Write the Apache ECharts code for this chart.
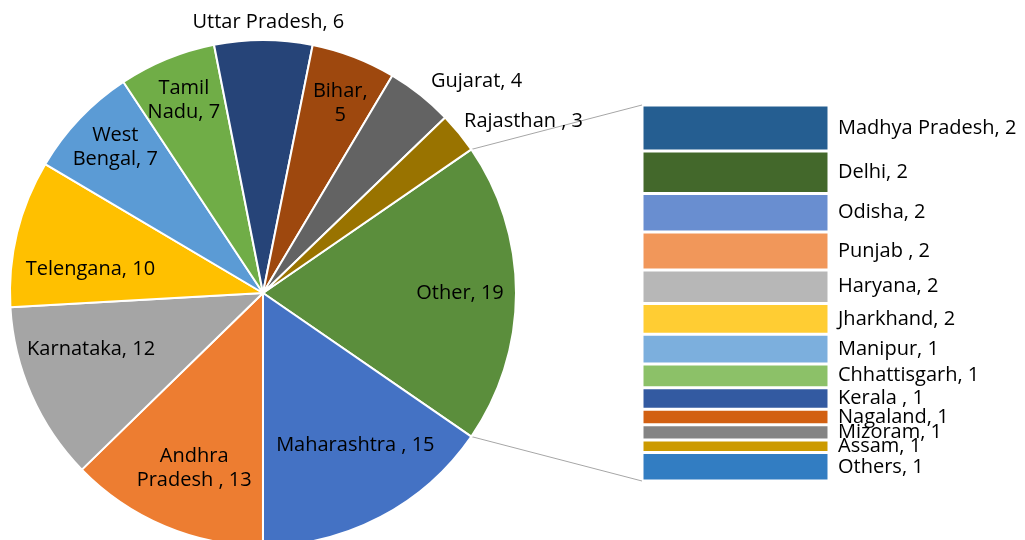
<!DOCTYPE html>
<html>
<head>
<meta charset="utf-8">
<script src="https://cdn.jsdelivr.net/npm/echarts@6/dist/echarts.min.js"></script>
<style>
html, body { margin: 0; padding: 0; background: #fff; }
#main { width: 1025px; height: 540px; }
</style>
</head>
<body>
<div id="main"></div>
<script>
// pie slices (clockwise after "Other"), label text as printed on the chart
var pieNames = ['Maharashtra , 15', 'Andhra\nPradesh , 13', 'Karnataka, 12', 'Telengana, 10', 'West\nBengal, 7',
    'Tamil\nNadu, 7', 'Uttar Pradesh, 6', 'Bihar,\n5', 'Gujarat, 4', 'Rajasthan , 3'];
var pieValues = [15.4, 12.7, 11.4, 9.4, 7.2, 6.2, 6.25, 5.4, 4.25, 2.6];
var pieColors = ['#4472C4', '#ED7D31', '#A5A5A5', '#FFC000', '#5B9BD5', '#70AD47', '#264478', '#9E480E', '#636363', '#997300'];
var otherName = 'Other, 19';
var otherColor = '#5B8E3C';

// the stacked bar that splits "Other"
var barNames = ['Madhya Pradesh, 2', 'Delhi, 2', 'Odisha, 2', 'Punjab , 2', 'Haryana, 2', 'Jharkhand, 2', 'Manipur, 1',
    'Chhattisgarh, 1', 'Kerala , 1', 'Nagaland, 1', 'Mizoram, 1', 'Assam, 1', 'Others, 1'];
var barValues = [2.35, 2.17, 1.97, 1.94, 1.71, 1.57, 1.52, 1.21, 1.10, 0.80, 0.77, 0.65, 1.45];
var barColors = ['#255E91', '#43682B', '#698ED0', '#F1975A', '#B7B7B7', '#FFCD33', '#7CAFDD', '#8CC168', '#335AA1',
    '#D26012', '#848484', '#CC9A00', '#327DC2'];

var FONT = 'Open Sans';
var FS = 20;
var cx = 263, cy = 293, R = 253;
var gridBox = {left: 642, top: 105, width: 187, height: 376};

var otherValue = barValues.reduce(function (a, b) { return a + b; }, 0);
var total = pieValues.reduce(function (a, b) { return a + b; }, 0) + otherValue;
var startAngle = otherValue / total * 180; // keeps "Other" centred facing the bar

// labels that sit outside the pie in the original (index in slice list -> nudge)
var outsideIdx = {7: [5, 4], 9: [43, 3], 10: [48, 2]};
// small nudges for inside labels
var insideNudge = {0: [7, 0], 1: [4, -16], 2: [5, 0], 3: [2, -20], 4: [12, 21], 5: [-10, -15], 6: [-7, -17], 8: [9, -12]};

var sliceData = [{name: otherName, value: otherValue, itemStyle: {color: otherColor}}];
pieNames.forEach(function (n, i) {
    sliceData.push({name: n, value: pieValues[i], itemStyle: {color: pieColors[i]}});
});

var innerLabelData = sliceData.map(function (d, i) {
    var show = !(i in outsideIdx);
    return {name: d.name, value: d.value, label: {show: show, offset: insideNudge[i] || [0, 0]}};
});
var outerLabelData = sliceData.map(function (d, i) {
    var show = (i in outsideIdx);
    return {name: d.name, value: d.value, label: {show: show, offset: outsideIdx[i] || [0, 0]}};
});

var labelText = {color: '#000', fontSize: FS, fontFamily: FONT, lineHeight: 24};

var series = [{
    type: 'pie',
    center: [cx, cy],
    radius: [0, R],
    startAngle: startAngle,
    silent: true,
    label: {show: false},
    labelLine: {show: false},
    itemStyle: {borderColor: '#fff', borderWidth: 2},
    data: sliceData
}, {
    // invisible ring, only carries the inside labels
    type: 'pie',
    center: [cx, cy],
    radius: [0, 374],
    startAngle: startAngle,
    silent: true,
    avoidLabelOverlap: false,
    labelLayout: {hideOverlap: false},
    itemStyle: {color: 'rgba(0,0,0,0)'},
    label: Object.assign({position: 'inside', formatter: '{b}'}, labelText),
    labelLine: {show: false},
    data: innerLabelData
}, {
    type: 'pie',
    center: [cx, cy],
    radius: [R, 290],
    startAngle: startAngle,
    silent: true,
    avoidLabelOverlap: false,
    labelLayout: {hideOverlap: false},
    itemStyle: {color: 'rgba(0,0,0,0)'},
    label: Object.assign({position: 'inside', formatter: '{b}'}, labelText),
    labelLine: {show: false},
    data: outerLabelData
}];

barNames.forEach(function (n, i) {
    series.push({
        name: n,
        type: 'bar',
        stack: 'other',
        barWidth: '100%',
        silent: true,
        data: [barValues[i]],
        itemStyle: {color: barColors[i], borderColor: '#fff', borderWidth: 1.5},
        label: Object.assign({show: true, position: 'right', distance: 9, formatter: n}, labelText)
    });
});

// connector lines from the "Other" slice edges to the bar corners
var a = startAngle * Math.PI / 180;
var px = cx + R * Math.cos(a);
var lineStyle = {stroke: '#A6A6A6', lineWidth: 1};

var chart = echarts.init(document.getElementById('main'));
chart.setOption({
    animation: false,
    grid: gridBox,
    xAxis: {type: 'category', data: [''], show: false},
    yAxis: {type: 'value', min: 0, max: otherValue, inverse: true, show: false},
    graphic: [{
        type: 'line', silent: true,
        shape: {x1: px, y1: cy - R * Math.sin(a), x2: gridBox.left, y2: gridBox.top},
        style: lineStyle
    }, {
        type: 'line', silent: true,
        shape: {x1: px, y1: cy + R * Math.sin(a), x2: gridBox.left, y2: gridBox.top + gridBox.height},
        style: lineStyle
    }],
    series: series
});
window.addEventListener('resize', function () {
    chart.resize();
});
</script>
</body>
</html>
